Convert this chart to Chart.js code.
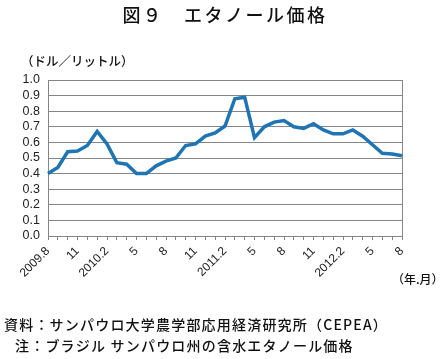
<!DOCTYPE html>
<html><head><meta charset="utf-8">
<script src="https://cdn.jsdelivr.net/npm/chart.js@4"></script>
<style>html,body{margin:0;padding:0;background:#fff}#wrap{width:446px;height:359px}</style>
</head><body>
<div id="wrap"><canvas id="c" width="446" height="359"></canvas></div>
<script>
// monthly 2009.8 - 2012.8
const months=["2009.8","9","10","11","12","2010.1","2010.2","3","4","5","6","7","8","9","10","11","12","2011.1","2011.2","3","4","5","6","7","8","9","10","11","12","2012.1","2012.2","3","4","5","6","7","8"];
const price=[0.40,0.44,0.54,0.545,0.58,0.67,0.59,0.47,0.46,0.40,0.40,0.45,0.48,0.50,0.58,0.59,0.64,0.66,0.705,0.88,0.89,0.63,0.70,0.73,0.74,0.70,0.69,0.72,0.68,0.655,0.655,0.68,0.64,0.585,0.53,0.525,0.515];
const yTicks=[0.0,0.1,0.2,0.3,0.4,0.5,0.6,0.7,0.8,0.9,1.0];

const JP="'Noto Sans CJK JP','Noto Sans',sans-serif";
const gridCol='#858585';

const textPlugin={
  id:'texts',
  afterDraw(ch){
    const ctx=ch.ctx,a=ch.chartArea;
    ctx.save();
    // right border
    ctx.strokeStyle=gridCol;ctx.lineWidth=1;
    ctx.beginPath();ctx.moveTo(a.right+0.5,a.top);ctx.lineTo(a.right+0.5,a.bottom);ctx.stroke();
    ctx.fillStyle='#111';
    ctx.textBaseline='middle';
    ctx.font="500 18px "+JP;ctx.letterSpacing='2.5px';ctx.textAlign='center';
    ctx.fillText('図９　エタノール価格',225,15);
    ctx.letterSpacing='0px';ctx.textAlign='left';
    ctx.font="500 12.5px "+JP;
    ctx.fillText('（ドル／リットル）',21,61);
    ctx.font="500 12px "+JP;
    ctx.fillText('（年.月）',392,279);
    ctx.font="500 14px "+JP;ctx.letterSpacing='1.2px';
    ctx.fillText('資料：サンパウロ大学農学部応用経済研究所（CEPEA）',4,325);
    ctx.fillText('注：ブラジル サンパウロ州の含水エタノール価格',15,346);
    ctx.restore();
  }
};

new Chart(document.getElementById('c'),{
  type:'line',
  data:{labels:months,datasets:[{data:price,borderColor:'#1F74B4',borderWidth:3.5,pointRadius:0,tension:0,fill:false}]},
  options:{
    responsive:false,animation:false,
    layout:{padding:{left:0,right:44,top:80,bottom:0}},
    plugins:{legend:{display:false},tooltip:{enabled:false}},
    scales:{
      x:{
        grid:{display:true,drawOnChartArea:false,drawTicks:true,tickLength:4,color:gridCol},
        border:{color:gridCol},
        ticks:{autoSkip:false,maxRotation:45,minRotation:45,padding:4,color:'#222',font:{family:"'Liberation Sans',sans-serif",size:12},
          callback:(v,i)=>i%3===0?months[i]:''},
        afterFit:s=>{s.height=123;}
      },
      y:{
        min:0,max:1,
        afterBuildTicks:s=>{s.ticks=yTicks.map(v=>({value:v}));},
        grid:{color:gridCol,drawTicks:false},
        border:{color:gridCol},
        ticks:{autoSkip:false,padding:8,color:'#222',font:{family:"'Liberation Sans',sans-serif",size:12.5},callback:v=>v.toFixed(1)},
        afterFit:s=>{s.width=48;}
      }
    }
  },
  plugins:[textPlugin]
});
</script>
</body></html>
